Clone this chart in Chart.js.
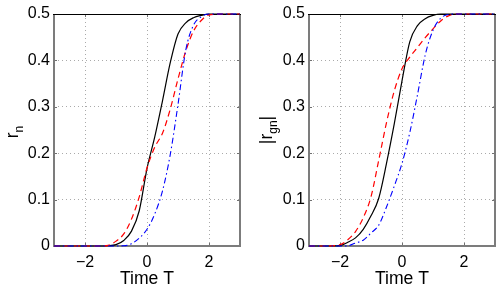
<!DOCTYPE html>
<html><head><meta charset="utf-8">
<script src="https://cdn.jsdelivr.net/npm/chart.js@4"></script>
<style>
html,body{margin:0;padding:0;background:#fff;}
#wrap{position:relative;width:498px;height:297px;overflow:hidden;}
canvas{position:absolute;top:0;}
</style>
</head><body>
<div id="wrap">
<canvas id="c1" width="249" height="297" style="left:0"></canvas>
<canvas id="c2" width="249" height="297" style="left:249px"></canvas>
</div>
<script>
// ---- data ----
const timeT = [-3,-2.5,-2,-1.75,-1.5,-1.25,-1,-0.75,-0.5,-0.25,0,0.25,0.5,0.75,1,1.25,1.5,1.75,2,2.5,3];

// left panel: r_n
const rnBlack = [0,0,0,0,0,0.0005,0.003,0.012,0.032,0.076,0.167,0.235,0.313,0.395,0.457,0.481,0.492,0.497,0.5,0.5,0.5];
const rnRed   = [0,0,0,0,0,0.0014,0.0105,0.026,0.058,0.106,0.168,0.213,0.243,0.295,0.36,0.42,0.463,0.486,0.498,0.5,0.5];
const rnBlue  = [0,0,0,0,0,0,0,0.0005,0.005,0.017,0.036,0.069,0.119,0.197,0.305,0.422,0.476,0.494,0.5,0.5,0.5];

// right panel: |r_gn|
const rgnBlack = [0,0,0.001,0.008,0.0175,0.036,0.065,0.103,0.178,0.263,0.356,0.44,0.475,0.49,0.497,0.5,0.5,0.5,0.5,0.5,0.5];
const rgnRed   = [0,0,0.003,0.0135,0.031,0.061,0.106,0.185,0.266,0.334,0.382,0.407,0.428,0.449,0.468,0.485,0.496,0.5,0.5,0.5,0.5];
const rgnBlue  = [0,0,0,0.0005,0.0065,0.0125,0.028,0.045,0.084,0.129,0.178,0.244,0.326,0.412,0.465,0.491,0.499,0.5,0.5,0.5,0.5];

const xTicks = [-2,0,2];
const xTickLabels = ['\u22122','0','2'];
const yTicks = [0,0.1,0.2,0.3,0.4,0.5];
const yTickLabels = ['0','0.1','0.2','0.3','0.4','0.5'];
const xTitle = 'Time T';
const leftYLabel = [{t:'r'},{t:'n',sub:true}];
const rightYLabel = [{t:'|r'},{t:'gn',sub:true},{t:'|'}];

const FONT = "'Liberation Sans', Arial, Helvetica, sans-serif";

function pts(ys){ return timeT.map((x,i)=>({x:x,y:ys[i]})); }

function ds(ys, color, dash, order, w){
  return {data:pts(ys), borderColor:color, borderWidth:w, borderDash:dash, pointRadius:0,
          fill:false, cubicInterpolationMode:'monotone', order:order, clip:2};
}

function makePlugin(labelParts, labelX, labelY){
  return {
    id:'frame',
    beforeDatasetsDraw(chart){
      const ctx = chart.ctx, a = chart.chartArea;
      const xs = chart.scales.x, ys = chart.scales.y;
      ctx.save();
      // inward tick marks
      ctx.strokeStyle = '#707070'; ctx.lineWidth = 1; ctx.setLineDash([]);
      ctx.beginPath();
      xTicks.forEach(v=>{
        const px = Math.round(xs.getPixelForValue(v))+0.5;
        ctx.moveTo(px, a.bottom); ctx.lineTo(px, a.bottom-3);
        ctx.moveTo(px, a.top); ctx.lineTo(px, a.top+3);
      });
      yTicks.forEach(v=>{
        const py = Math.round(ys.getPixelForValue(v))+0.5;
        ctx.moveTo(a.left, py); ctx.lineTo(a.left+3, py);
        ctx.moveTo(a.right, py); ctx.lineTo(a.right-3, py);
      });
      ctx.stroke();
      // frame
      ctx.strokeStyle = '#7c7c7c'; ctx.lineWidth = 2;
      ctx.beginPath();
      ctx.moveTo(a.left, a.top); ctx.lineTo(a.left, a.bottom);
      ctx.lineTo(a.right, a.bottom); ctx.lineTo(a.right, a.top);
      ctx.stroke();
      ctx.strokeStyle = '#000'; ctx.lineWidth = 1;
      ctx.beginPath(); ctx.moveTo(a.left-1, a.top+0.5); ctx.lineTo(a.right+1, a.top+0.5); ctx.stroke();
      ctx.restore();
    },
    afterDraw(chart){
      const ctx = chart.ctx;
      ctx.save();
      // rotated y label with subscript
      ctx.translate(labelX, labelY); ctx.rotate(-Math.PI/2);
      ctx.fillStyle = '#000'; ctx.textBaseline = 'alphabetic'; ctx.textAlign = 'left';
      let total = 0;
      labelParts.forEach(p=>{ ctx.font = (p.sub? '12px ':'17.6px ')+FONT; p.w = ctx.measureText(p.t).width; total += p.w; });
      let cx = -total/2;
      labelParts.forEach(p=>{ ctx.font = (p.sub? '12px ':'17.6px ')+FONT; ctx.fillText(p.t, cx, p.sub?5:0); cx += p.w; });
      ctx.restore();
    }
  };
}

function makeChart(id, series, yAxisWidth, padRight, labelParts, labelX, labelY){
  return new Chart(document.getElementById(id), {
    type:'line',
    data:{datasets:[
      ds(series[0], '#000000', [], 3, 1.2),
      ds(series[1], '#ff0000', [6,4], 2, 1.2),
      ds(series[2], '#0000ff', [6,3,1.5,3], 1, 1.1)
    ]},
    options:{
      responsive:false, animation:false, events:[],
      layout:{padding:{left:0,right:padRight,top:14,bottom:0}},
      plugins:{legend:{display:false}, tooltip:{enabled:false}},
      scales:{
        x:{type:'linear', min:-3, max:3,
           afterBuildTicks:(s)=>{ s.ticks = xTicks.map(v=>({value:v})); },
           afterFit:(s)=>{ s.height = 51; },
           ticks:{callback:(v,i)=>xTickLabels[i], color:'#000', font:{family:FONT,size:16}, padding:7, maxRotation:0, autoSkip:false},
           grid:{color:'#aaaaaa', lineWidth:1, drawTicks:false},
           border:{display:false, dash:[1,3]},
           title:{display:true, text:xTitle, color:'#000', font:{family:FONT,size:17.6}, padding:{top:0,bottom:7}}
        },
        y:{type:'linear', min:0, max:0.5,
           afterBuildTicks:(s)=>{ s.ticks = yTicks.map(v=>({value:v})); },
           afterFit:(s)=>{ s.width = yAxisWidth; },
           ticks:{callback:(v,i)=>yTickLabels[i], color:'#000', font:{family:FONT,size:16}, padding:4, autoSkip:false},
           grid:{color:'#aaaaaa', lineWidth:1, drawTicks:false},
           border:{display:false, dash:[1,3]}
        }
      }
    },
    plugins:[makePlugin(labelParts, labelX, labelY)]
  });
}

makeChart('c1', [rnBlack, rnRed, rnBlue], 54, 9, leftYLabel, 17.5, 132);
makeChart('c2', [rgnBlack, rgnRed, rgnBlue], 60, 3, rightYLabel, 23, 130);
</script>
</body></html>
